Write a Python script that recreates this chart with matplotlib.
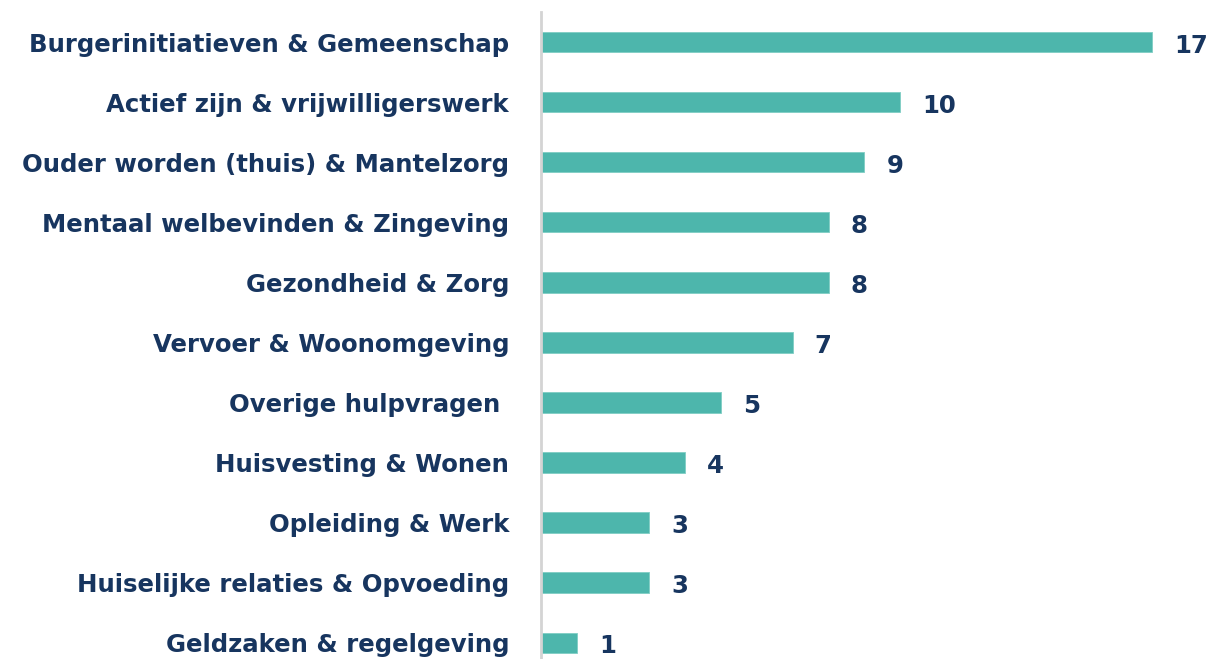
import matplotlib.pyplot as plt

# categorieën en aantallen (boven naar beneden)
categorieen = [
    "Burgerinitiatieven & Gemeenschap",
    "Actief zijn & vrijwilligerswerk",
    "Ouder worden (thuis) & Mantelzorg",
    "Mentaal welbevinden & Zingeving",
    "Gezondheid & Zorg",
    "Vervoer & Woonomgeving",
    "Overige hulpvragen ",
    "Huisvesting & Wonen",
    "Opleiding & Werk",
    "Huiselijke relaties & Opvoeding",
    "Geldzaken & regelgeving",
]
aantallen = [17, 10, 9, 8, 8, 7, 5, 4, 3, 3, 1]

bar_kleur = "#4db6ac"
tekst_kleur = "#17355f"
lettertype = "DejaVu Sans"

fig = plt.figure(figsize=(12.11, 6.59), dpi=100)
ax = fig.add_axes([541 / 1211, 0, 670 / 1211, 1 - 12 / 659])

posities = list(range(len(categorieen)))
ax.barh(posities, aantallen, height=0.34, color=bar_kleur, edgecolor="#7fcdc4", linewidth=0.6)

for p, v in zip(posities, aantallen):
    ax.text(v + 0.62, p + 0.06, str(v), va="center", ha="left", fontsize=17.6,
            fontweight="bold", color=tekst_kleur, family=lettertype)

ax.set_yticks(posities)
ax.set_yticklabels(categorieen, fontsize=17.6, fontweight="bold", color=tekst_kleur, family=lettertype)
ax.tick_params(axis="y", length=0, pad=23)
ax.set_xticks([])
ax.set_xlim(0, 670 / 35.94)
ax.set_ylim(10.27, -0.5)

for s in ["top", "right", "bottom"]:
    ax.spines[s].set_visible(False)
ax.spines["left"].set_color("#d4d4d4")
ax.spines["left"].set_linewidth(2)

fig.savefig("out.png", dpi=100, facecolor="white")
